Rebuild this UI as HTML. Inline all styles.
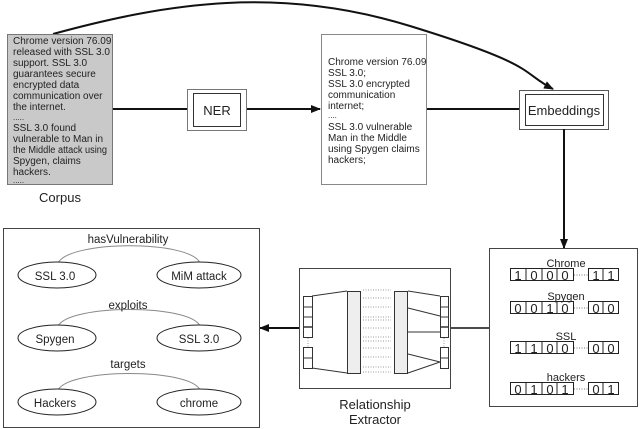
<!DOCTYPE html>
<html><head><meta charset="utf-8"><style>
html,body{margin:0;padding:0;background:#fff;}
svg{display:block;font-family:"Liberation Sans",Arial,sans-serif;}
</style></head><body>
<svg width="640" height="429" viewBox="0 0 640 429" xmlns="http://www.w3.org/2000/svg">
<defs>
<marker id="ar" markerWidth="10" markerHeight="8" refX="9" refY="4" orient="auto" markerUnits="userSpaceOnUse">
<path d="M0,0 L10,4 L0,8 Z" fill="#111"/>
</marker>
</defs>
<path d="M53,34 C170,2 280,-14 410,26 S520,72 553,89" fill="none" stroke="#111" stroke-width="2" marker-end="url(#ar)"/>
<rect x="7.5" y="34.5" width="105" height="150" fill="#c9c9c9" stroke="#777"/>
<g font-size="10" fill="#222" textLength="0">
<text x="13" y="44">Chrome version 76.09</text>
<text x="13" y="55">released with SSL 3.0</text>
<text x="13" y="66">support. SSL 3.0</text>
<text x="13" y="77">guarantees secure</text>
<text x="13" y="88">encrypted data</text>
<text x="13" y="99">communication over</text>
<text x="13" y="110">the internet.</text>
<text x="13" y="120" font-size="8">.....</text>
<text x="13" y="131">SSL 3.0 found</text>
<text x="13" y="142">vulnerable to Man in</text>
<text x="13" y="153" textLength="94" lengthAdjust="spacingAndGlyphs">the Middle attack using</text>
<text x="13" y="164">Spygen, claims</text>
<text x="13" y="175">hackers.</text>
<text x="13" y="183" font-size="8">.....</text>
</g>
<text x="60" y="202" font-size="13" text-anchor="middle" fill="#222">Corpus</text>
<line x1="113" y1="109" x2="187" y2="109" stroke="#111" stroke-width="2"/>
<line x1="246" y1="109" x2="320" y2="109" stroke="#111" stroke-width="2" marker-end="url(#ar)"/>
<line x1="426" y1="109" x2="519" y2="109" stroke="#111" stroke-width="2"/>
<rect x="187.5" y="89.5" width="59" height="41" fill="#fff" stroke="#777"/>
<rect x="193.5" y="93.5" width="47" height="33" fill="#fff" stroke="#333"/>
<text x="217" y="115" font-size="13" text-anchor="middle" fill="#222">NER</text>
<rect x="321.5" y="34.5" width="105" height="150" fill="#fff" stroke="#888"/>
<g font-size="10" fill="#222">
<text x="328" y="65">Chrome version 76.09</text>
<text x="328" y="76">SSL 3.0;</text>
<text x="328" y="87">SSL 3.0 encrypted</text>
<text x="328" y="98">communication</text>
<text x="328" y="109">internet;</text>
<text x="328" y="118" font-size="8">....</text>
<text x="328" y="130">SSL 3.0 vulnerable</text>
<text x="328" y="141">Man in the Middle</text>
<text x="328" y="152">using Spygen claims</text>
<text x="328" y="163">hackers;</text>
</g>
<rect x="519.5" y="90.5" width="89" height="39" fill="#fff" stroke="#555"/>
<rect x="525.5" y="94.5" width="78" height="31" fill="#fff" stroke="#333"/>
<text x="564" y="115" font-size="13" text-anchor="middle" fill="#222">Embeddings</text>
<line x1="564" y1="129" x2="564" y2="248" stroke="#111" stroke-width="2" marker-end="url(#ar)"/>
<rect x="489.5" y="248.5" width="148" height="158" fill="#fff" stroke="#444"/>
<g font-size="11" fill="#222" text-anchor="middle">
<text x="566" y="267">Chrome</text>
<text x="566" y="300">Spygen</text>
<text x="566" y="340">SSL</text>
<text x="566" y="381">hackers</text>
</g>
<g stroke="#222" fill="none">
<rect x="510.5" y="268.5" width="63" height="12"/><line x1="526" y1="268" x2="526" y2="281"/><line x1="542" y1="268" x2="542" y2="281"/><line x1="557" y1="268" x2="557" y2="281"/>
<rect x="588.5" y="268.5" width="30" height="12"/><line x1="603" y1="268" x2="603" y2="281"/>
<rect x="510.5" y="301.5" width="63" height="12"/><line x1="526" y1="301" x2="526" y2="314"/><line x1="542" y1="301" x2="542" y2="314"/><line x1="557" y1="301" x2="557" y2="314"/>
<rect x="588.5" y="301.5" width="30" height="12"/><line x1="603" y1="301" x2="603" y2="314"/>
<rect x="510.5" y="341.5" width="63" height="12"/><line x1="526" y1="341" x2="526" y2="354"/><line x1="542" y1="341" x2="542" y2="354"/><line x1="557" y1="341" x2="557" y2="354"/>
<rect x="588.5" y="341.5" width="30" height="12"/><line x1="603" y1="341" x2="603" y2="354"/>
<rect x="510.5" y="382.5" width="63" height="12"/><line x1="526" y1="382" x2="526" y2="395"/><line x1="542" y1="382" x2="542" y2="395"/><line x1="557" y1="382" x2="557" y2="395"/>
<rect x="588.5" y="382.5" width="30" height="12"/><line x1="603" y1="382" x2="603" y2="395"/>
<g stroke="#777" stroke-dasharray="1,1.5">
<line x1="574" y1="275" x2="588" y2="275"/><line x1="574" y1="308" x2="588" y2="308"/><line x1="574" y1="348" x2="588" y2="348"/><line x1="574" y1="389" x2="588" y2="389"/>
</g>
</g>
<g font-size="13" fill="#222" text-anchor="middle">
<text x="518" y="280">1</text><text x="534" y="280">0</text><text x="550" y="280">0</text><text x="565" y="280">0</text><text x="596" y="280">1</text><text x="611" y="280">1</text>
<text x="518" y="313">0</text><text x="534" y="313">0</text><text x="550" y="313">1</text><text x="565" y="313">0</text><text x="596" y="313">0</text><text x="611" y="313">0</text>
<text x="518" y="353">1</text><text x="534" y="353">1</text><text x="550" y="353">0</text><text x="565" y="353">0</text><text x="596" y="353">0</text><text x="611" y="353">0</text>
<text x="518" y="394">0</text><text x="534" y="394">1</text><text x="550" y="394">0</text><text x="565" y="394">1</text><text x="596" y="394">0</text><text x="611" y="394">1</text>
</g>
<line x1="489" y1="328" x2="451" y2="328" stroke="#111" stroke-width="1.5"/>
<line x1="299" y1="328" x2="260" y2="328" stroke="#111" stroke-width="2" marker-end="url(#ar)"/>
<rect x="299.5" y="268.5" width="151" height="120" fill="#fff" stroke="#444"/>
<g stroke="#333" fill="#fff">
<rect x="303.5" y="296.5" width="9" height="41"/>
<line x1="303" y1="307" x2="312" y2="307"/><line x1="303" y1="317" x2="312" y2="317"/><line x1="303" y1="327" x2="312" y2="327" stroke-width="1.5"/>
<rect x="303.5" y="347.5" width="9" height="21"/><line x1="303" y1="358" x2="312" y2="358"/>
<rect x="440.5" y="296.5" width="8" height="41"/>
<line x1="440" y1="307" x2="449" y2="307"/><line x1="440" y1="317" x2="449" y2="317"/><line x1="440" y1="327" x2="449" y2="327" stroke-width="1.5"/>
<rect x="440.5" y="347.5" width="8" height="21"/><line x1="440" y1="358" x2="449" y2="358"/>
<rect x="347.5" y="291.5" width="13" height="82" fill="#eee"/>
<rect x="394.5" y="291.5" width="13" height="82" fill="#eee"/>
</g>
<g stroke="#999" stroke-dasharray="1,1.5">
<line x1="308" y1="338" x2="308" y2="347"/><line x1="444" y1="338" x2="444" y2="347"/>
<line x1="363" y1="290" x2="391" y2="290"/><line x1="363" y1="298" x2="391" y2="298"/><line x1="363" y1="307" x2="391" y2="307"/><line x1="363" y1="317" x2="391" y2="317"/><line x1="363" y1="320" x2="391" y2="320"/><line x1="363" y1="328" x2="391" y2="328"/><line x1="363" y1="337" x2="391" y2="337"/><line x1="363" y1="341" x2="391" y2="341"/><line x1="363" y1="348" x2="391" y2="348"/><line x1="363" y1="357" x2="391" y2="357"/><line x1="363" y1="367" x2="391" y2="367"/><line x1="363" y1="372" x2="391" y2="372"/>
</g>
<g stroke="#333" stroke-width="1">
<line x1="312" y1="296" x2="347" y2="291"/><line x1="312" y1="368" x2="347" y2="373"/>
<line x1="408" y1="291" x2="440" y2="296"/><line x1="408" y1="308" x2="440" y2="316"/><line x1="408" y1="332" x2="440" y2="332"/><line x1="408" y1="354" x2="440" y2="362"/><line x1="408" y1="373" x2="440" y2="362"/>
</g>
<text x="375" y="409" font-size="13" text-anchor="middle" fill="#222">Relationship</text>
<text x="375" y="424" font-size="13" text-anchor="middle" fill="#222">Extractor</text>
<rect x="3.5" y="228.5" width="256" height="199" fill="#fff" stroke="#444"/>
<g stroke="#888" fill="none">
<path d="M58,263 C70,240 190,240 200,263"/>
<path d="M58,326 C70,304 190,304 200,326"/>
<path d="M58,390 C70,368 190,368 200,390"/>
</g>
<g stroke="#222" fill="#fff">
<ellipse cx="57" cy="275" rx="39" ry="13"/><ellipse cx="199" cy="275" rx="42" ry="13"/>
<ellipse cx="57" cy="338" rx="39" ry="13"/><ellipse cx="199" cy="338" rx="42" ry="13"/>
<ellipse cx="57" cy="402" rx="39" ry="13"/><ellipse cx="199" cy="402" rx="42" ry="13"/>
</g>
<g font-size="11.5" fill="#222" text-anchor="middle">
<text x="128" y="243">hasVulnerability</text>
<text x="128" y="309">exploits</text>
<text x="128" y="368">targets</text>
<text x="55" y="280">SSL 3.0</text><text x="199" y="280">MiM attack</text>
<text x="55" y="343">Spygen</text><text x="199" y="343">SSL 3.0</text>
<text x="55" y="407">Hackers</text><text x="199" y="407">chrome</text>
</g>
</svg>
</body></html>
